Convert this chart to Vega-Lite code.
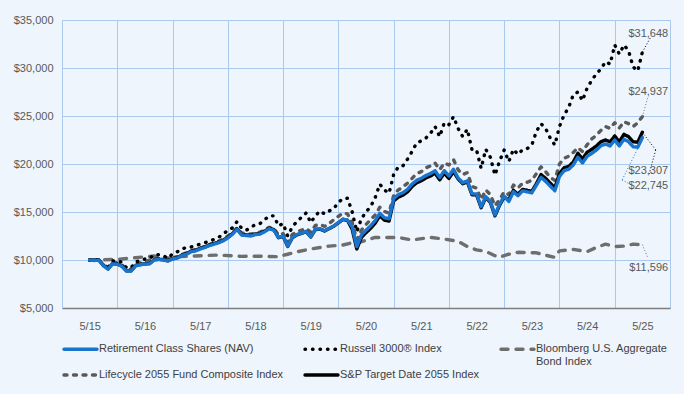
{
  "$schema": "https://vega.github.io/schema/vega-lite/v6.json",
  "width": 608,
  "height": 288,
  "autosize": {"type": "none"},
  "padding": {"left": 62, "top": 20, "right": 14, "bottom": 86},
  "background": "#eef5fc",
  "config": {
    "view": {"stroke": null, "fill": "#eef5fc"},
    "font": "Liberation Sans",
    "legend": {
      "title": null,
      "orient": "none",
      "legendX": 0,
      "legendY": 323,
      "columns": 3,
      "columnPadding": 19,
      "rowPadding": 2,
      "clipHeight": 12,
      "symbolType": "stroke",
      "symbolSize": 1089,
      "labelFontSize": 11,
      "labelColor": "#404040",
      "labelOffset": 0,
      "labelLimit": 300
    }
  },
  "datasets": {
    "series": [
      {"m":0,"F":10000,"R":10000,"B":10000,"L":10000,"S":10000},
      {"m":1,"F":9950,"R":10050,"L":9970,"S":9980},
      {"m":2,"F":9980,"R":10000,"L":10000,"S":10010},
      {"m":3,"F":9400,"R":9450,"B":10030,"L":9500,"S":9430},
      {"m":4,"F":9050,"R":9200,"L":9250,"S":9080},
      {"m":5,"F":9600,"R":9900,"L":9750,"S":9630},
      {"m":6,"F":9550,"R":9950,"B":10070,"L":9700,"S":9580},
      {"m":7,"F":9350,"R":9750,"L":9500,"S":9380},
      {"m":8,"F":8850,"R":9200,"L":9050,"S":8880},
      {"m":9,"F":8850,"R":9200,"L":9050,"S":8880},
      {"m":10,"F":9400,"R":9830,"B":10240,"L":9600,"S":9430},
      {"m":11,"F":9500,"R":9900,"S":9530},
      {"m":12,"F":9580,"R":10100,"L":9800,"S":9610},
      {"m":13,"F":9600,"R":10150,"S":9630},
      {"m":14,"F":10000,"R":10550,"B":10420,"L":10200,"S":10030},
      {"m":15,"F":10050,"R":10550,"S":10080},
      {"m":16,"F":10000,"R":10450,"S":10030},
      {"m":17,"F":9900,"R":10180,"B":10200,"L":10100,"S":9930},
      {"m":18,"F":10100,"R":10650,"S":10130},
      {"m":19,"F":10200,"R":10850,"L":10350,"S":10230},
      {"m":20,"F":10450,"R":11150,"B":10350,"S":10510},
      {"m":21,"F":10600,"R":11300,"S":10660},
      {"m":22,"F":10850,"R":11350,"L":10950,"S":10910},
      {"m":23,"F":10950,"R":11500,"B":10420,"S":11010},
      {"m":24,"F":11150,"R":11650,"S":11210},
      {"m":25,"F":11300,"R":11800,"L":11400,"S":11360},
      {"m":26,"F":11500,"R":11950,"S":11560},
      {"m":27,"F":11650,"R":12150,"L":11800,"S":11710},
      {"m":28,"F":11800,"R":12350,"B":10520,"S":11860},
      {"m":29,"F":12000,"R":12750,"L":12150,"S":12060},
      {"m":30,"F":12300,"R":13050,"S":12360},
      {"m":31,"F":12680,"R":13350,"L":12850,"S":12740},
      {"m":32,"F":13200,"R":14000,"L":13350,"S":13260},
      {"m":33,"F":12600,"R":13300,"B":10380,"L":12800,"S":12660},
      {"m":34,"F":12550,"R":13100,"S":12610},
      {"m":35,"F":12500,"R":13400,"L":12700,"S":12560},
      {"m":36,"F":12650,"R":13700,"B":10400,"S":12710},
      {"m":37,"F":12700,"R":13800,"L":12900,"S":12760},
      {"m":38,"F":12950,"R":14200,"S":13010},
      {"m":39,"F":13250,"R":14600,"L":13400,"S":13310},
      {"m":40,"F":13100,"R":14600,"L":13300,"S":13160},
      {"m":41,"F":12350,"R":13550,"B":10350,"L":12600,"S":12320},
      {"m":42,"F":12500,"R":13800,"L":12750,"S":12470},
      {"m":43,"F":11450,"R":12500,"B":10600,"L":11800,"S":11420},
      {"m":44,"F":12350,"R":13450,"L":12650,"S":12320},
      {"m":45,"F":12650,"R":14000,"B":10850,"L":12950,"S":12620},
      {"m":46,"F":12800,"R":14450,"L":13100,"S":12770},
      {"m":47,"F":12980,"R":14900,"L":13300,"S":12950},
      {"m":48,"F":12430,"R":13900,"B":11150,"L":12900,"S":12400},
      {"m":49,"F":13200,"R":14600,"L":13600,"S":13170},
      {"m":50,"F":13250,"R":15100,"L":13700,"S":13220},
      {"m":51,"F":13050,"R":14800,"L":13500,"S":13020},
      {"m":52,"F":13300,"R":15100,"B":11450,"L":13800,"S":13270},
      {"m":53,"F":13550,"R":15350,"L":14200,"S":13520},
      {"m":54,"F":13900,"R":16000,"L":14550,"S":13870},
      {"m":55,"F":14250,"R":16400,"B":11560,"L":14900,"S":14220},
      {"m":56,"F":14150,"R":16430,"L":14800,"S":14120},
      {"m":57,"F":13450,"R":15000,"B":11800,"L":13900,"S":13200},
      {"m":58,"F":11400,"R":12950,"B":11750,"L":12100,"S":11150},
      {"m":59,"F":12600,"R":14300,"L":13100,"S":12350},
      {"m":60,"F":13100,"R":15000,"B":12050,"L":13700,"S":12850},
      {"m":61,"F":13550,"R":15550,"L":14200,"S":13300},
      {"m":62,"F":14100,"R":16500,"B":12350,"L":14700,"S":13850},
      {"m":63,"F":14870,"R":17900,"L":15500,"S":14620},
      {"m":64,"F":14400,"R":17300,"B":12350,"L":15050,"S":14150},
      {"m":65,"F":14300,"R":16950,"L":14900,"S":14050},
      {"m":66,"F":16400,"R":18900,"L":16700,"S":16150},
      {"m":67,"F":16800,"R":19700,"B":12350,"L":17300,"S":16550},
      {"m":68,"F":17000,"R":19800,"L":17600,"S":16750},
      {"m":69,"F":17350,"R":20500,"L":18000,"S":17100},
      {"m":70,"F":17900,"R":21300,"B":12080,"L":18500,"S":17650},
      {"m":71,"F":18300,"R":22200,"L":19000,"S":18050},
      {"m":72,"F":18500,"R":22400,"L":19200,"S":18250},
      {"m":73,"F":18800,"R":22700,"L":19600,"S":18550},
      {"m":74,"F":19000,"R":23200,"B":12350,"L":19800,"S":18750},
      {"m":75,"F":19300,"R":23900,"L":20100,"S":19050},
      {"m":76,"F":18600,"R":22850,"L":19400,"S":18350},
      {"m":77,"F":19300,"R":24300,"B":12180,"L":20100,"S":19050},
      {"m":78,"F":18750,"R":24100,"L":19900,"S":18500},
      {"m":79,"F":19450,"R":24930,"L":20450,"S":19200},
      {"m":80,"F":18550,"R":23700,"B":11950,"L":19400,"S":18450},
      {"m":81,"F":18050,"R":22850,"L":18900,"S":17950},
      {"m":82,"F":18250,"R":23620,"B":11400,"L":19100,"S":18150},
      {"m":83,"F":16900,"R":21500,"L":17650,"S":16800},
      {"m":84,"F":16880,"R":21450,"B":11050,"L":17500,"S":16780},
      {"m":85,"F":15550,"R":19550,"L":16300,"S":15450},
      {"m":86,"F":16600,"R":21530,"B":10900,"L":17300,"S":16500},
      {"m":87,"F":16100,"R":20700,"L":16800,"S":16000},
      {"m":88,"F":14700,"R":18850,"B":10450,"L":15650,"S":14600},
      {"m":89,"F":15800,"R":20300,"B":10300,"L":16300,"S":15700},
      {"m":90,"F":16650,"R":21460,"L":17100,"S":16550},
      {"m":91,"F":16100,"R":20240,"B":10600,"L":16800,"S":16250},
      {"m":92,"F":17100,"R":21530,"L":17800,"S":17250},
      {"m":93,"F":16700,"R":21000,"B":10800,"L":17500,"S":16850},
      {"m":94,"F":17200,"R":21500,"L":18000,"S":17350},
      {"m":95,"F":17100,"R":21600,"L":18100,"S":17250},
      {"m":96,"F":17000,"R":21980,"L":18300,"S":17150},
      {"m":97,"F":17800,"R":23400,"B":10750,"L":19000,"S":17950},
      {"m":98,"F":18600,"R":24200,"L":19700,"S":18900},
      {"m":99,"F":18200,"R":23700,"B":10500,"L":19200,"S":18500},
      {"m":100,"F":17700,"R":22700,"L":18600,"S":18000},
      {"m":101,"F":17220,"R":21980,"B":10280,"L":18300,"S":17520},
      {"m":102,"F":18700,"R":23900,"B":10950,"L":20000,"S":19000},
      {"m":103,"F":19300,"R":25100,"L":20600,"S":19600},
      {"m":104,"F":19450,"R":25900,"L":20800,"S":19750},
      {"m":105,"F":19900,"R":27200,"B":11100,"L":21200,"S":20200},
      {"m":106,"F":20700,"R":27500,"L":21700,"S":21120},
      {"m":107,"F":20100,"R":26600,"L":21300,"S":20520},
      {"m":108,"F":20800,"R":27900,"B":10870,"L":22000,"S":21220},
      {"m":109,"F":21100,"R":28700,"L":22600,"S":21520},
      {"m":110,"F":21450,"R":29400,"B":11300,"L":23000,"S":21870},
      {"m":111,"F":21900,"R":29900,"L":23500,"S":22320},
      {"m":112,"F":22080,"R":30660,"B":11650,"L":23900,"S":22500},
      {"m":113,"F":21880,"R":30400,"L":23700,"S":22300},
      {"m":114,"F":22500,"R":32400,"B":11400,"L":24300,"S":22920},
      {"m":115,"F":21880,"R":31450,"L":23750,"S":22300},
      {"m":116,"F":22570,"R":32400,"B":11450,"L":24400,"S":23090},
      {"m":117,"F":22330,"R":31800,"L":24200,"S":22850},
      {"m":118,"F":21800,"R":30100,"B":11650,"L":23900,"S":22320},
      {"m":119,"F":21750,"R":29700,"L":24300,"S":22270},
      {"m":120,"F":22745,"R":31648,"B":11596,"L":24937,"S":23307}
    ],
    "labels": [
      {"k":"R","m":125.6,"v":33510,"t":"$31,648"},
      {"k":"L","m":125.6,"v":27530,"t":"$24,937"},
      {"k":"S","m":125.6,"v":19270,"t":"$23,307"},
      {"k":"F","m":125.6,"v":17710,"t":"$22,745"},
      {"k":"B","m":125.6,"v":9170,"t":"$11,596"}
    ],
    "leaders": [
      {"k":"R","m":120,"v":31648,"m2":121.7,"v2":33125},
      {"k":"L","m":120,"v":24937,"m2":121.2,"v2":26980},
      {"k":"S","m":120,"v":23307,"m2":122.9,"v2":21460},
      {"k":"S","m":122.9,"v":21460,"m2":121.4,"v2":18850},
      {"k":"F","m":119.5,"v":22100,"m2":115.6,"v2":18330},
      {"k":"F","m":115.6,"v":18330,"m2":117.7,"v2":17810},
      {"k":"B","m":120,"v":11596,"m2":121.2,"v2":10210}
    ]
  },
  "encoding": {
    "x": {
      "field": "m", "type": "quantitative",
      "scale": {"domain": [-6, 126], "nice": false, "zero": false},
      "axis": {
        "title": null,
        "values": [6, 18, 30, 42, 54, 66, 78, 90, 102, 114, 126],
        "labelExpr": "'5/' + (15 + (datum.value - 6) / 12)",
        "labelOffset": -27.6,
        "labelFlush": false,
        "labelOverlap": false,
        "ticks": false,
        "labelPadding": 12,
        "labelFontSize": 11,
        "labelColor": "#595959",
        "grid": true,
        "gridColor": "#a9c9ee",
        "domainColor": "#7f7f7f",
        "domainWidth": 1.5
      }
    },
    "y": {
      "field": "v", "type": "quantitative",
      "scale": {"domain": [5000, 35000], "nice": false, "zero": false},
      "axis": {
        "title": null,
        "values": [5000, 10000, 15000, 20000, 25000, 30000, 35000],
        "format": "$,.0f",
        "labelFlush": false,
        "ticks": false,
        "labelPadding": 9,
        "labelFontSize": 11,
        "labelColor": "#595959",
        "grid": true,
        "gridColor": "#a9c9ee",
        "domainColor": "#a9c9ee"
      }
    }
  },
  "layer": [
    {
      "data": {"name": "series"},
      "transform": [
        {"fold": ["B", "L", "R", "S", "F"], "as": ["k", "v"]},
        {"filter": "isValid(datum.v)"}
      ],
      "mark": {"type": "line", "strokeCap": "round", "strokeJoin": "round"},
      "encoding": {
        "color": {
          "field": "k", "type": "nominal",
          "scale": {"domain": ["F", "L", "R", "S", "B"], "range": ["#1874cd", "#5a5a5a", "#000000", "#000000", "#6e6e6e"]},
          "legend": {
            "labelExpr": "datum.label == 'F' ? ['Retirement Class Shares (NAV)', ' '] : datum.label == 'R' ? ['Russell 3000® Index', ' '] : datum.label == 'B' ? ['Bloomberg U.S. Aggregate', 'Bond Index'] : datum.label == 'L' ? 'Lifecycle 2055 Fund Composite Index' : 'S&P Target Date 2055 Index'",
            "encode": {"symbols": {"update": {"strokeCap": {"value": "round"}}}, "labels": {"update": {"lineHeight": {"value": 12.5}}}}
          }
        },
        "strokeDash": {
          "field": "k", "type": "nominal",
          "scale": {"domain": ["F", "L", "R", "S", "B"], "range": [[1, 0], [3, 6.5], [0.5, 7], [1, 0], [7, 8]]},
          "legend": {
            "labelExpr": "datum.label == 'F' ? ['Retirement Class Shares (NAV)', ' '] : datum.label == 'R' ? ['Russell 3000® Index', ' '] : datum.label == 'B' ? ['Bloomberg U.S. Aggregate', 'Bond Index'] : datum.label == 'L' ? 'Lifecycle 2055 Fund Composite Index' : 'S&P Target Date 2055 Index'",
            "encode": {"symbols": {"update": {"strokeCap": {"value": "round"}}}, "labels": {"update": {"lineHeight": {"value": 12.5}}}}
          }
        },
        "strokeWidth": {
          "field": "k", "type": "nominal",
          "scale": {"domain": ["F", "L", "R", "S", "B"], "range": [3.4, 3.4, 4, 3, 3.4]},
          "legend": {
            "labelExpr": "datum.label == 'F' ? ['Retirement Class Shares (NAV)', ' '] : datum.label == 'R' ? ['Russell 3000® Index', ' '] : datum.label == 'B' ? ['Bloomberg U.S. Aggregate', 'Bond Index'] : datum.label == 'L' ? 'Lifecycle 2055 Fund Composite Index' : 'S&P Target Date 2055 Index'",
            "encode": {"symbols": {"update": {"strokeCap": {"value": "round"}}}, "labels": {"update": {"lineHeight": {"value": 12.5}}}}
          }
        }
      }
    },
    {
      "data": {"name": "leaders"},
      "transform": [{"filter": "datum.k == 'R' || datum.k == 'S'"}],
      "mark": {"type": "rule", "color": "#000000", "strokeWidth": 1, "strokeDash": [1, 2]},
      "encoding": {"x2": {"field": "m2"}, "y2": {"field": "v2"}}
    },
    {
      "data": {"name": "leaders"},
      "transform": [{"filter": "datum.k == 'L' || datum.k == 'B'"}],
      "mark": {"type": "rule", "color": "#6e6e6e", "strokeWidth": 1, "strokeDash": [1, 2]},
      "encoding": {"x2": {"field": "m2"}, "y2": {"field": "v2"}}
    },
    {
      "data": {"name": "leaders"},
      "transform": [{"filter": "datum.k == 'F'"}],
      "mark": {"type": "rule", "color": "#1874cd", "strokeWidth": 1, "strokeDash": [1, 2]},
      "encoding": {"x2": {"field": "m2"}, "y2": {"field": "v2"}}
    },
    {
      "data": {"name": "labels"},
      "mark": {"type": "text", "align": "right", "baseline": "middle", "fontSize": 11, "color": "#595959"},
      "encoding": {"text": {"field": "t"}}
    }
  ]
}
